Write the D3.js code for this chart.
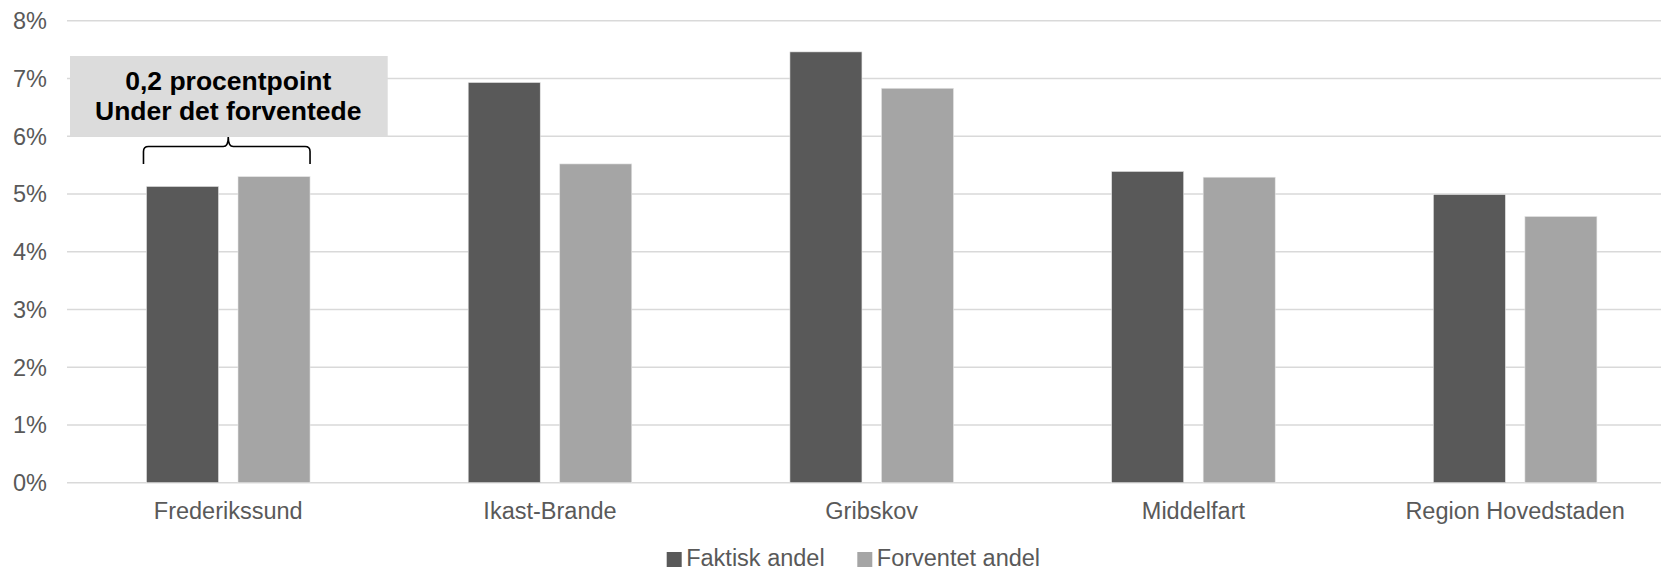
<!DOCTYPE html>
<html>
<head>
<meta charset="utf-8">
<script src="https://cdn.jsdelivr.net/npm/d3@7"></script>
<style>
  html, body { margin: 0; padding: 0; background: #fff; overflow: hidden; }
  svg { display: block; }
  text { font-family: "Liberation Sans", Arial, sans-serif; }
</style>
</head>
<body>
<svg id="chart" width="1661" height="571"></svg>
<script>
const categories = ["Frederikssund", "Ikast-Brande", "Gribskov", "Middelfart", "Region Hovedstaden"];
const seriesNames = ["Faktisk andel", "Forventet andel"];
const faktisk = [5.13, 6.93, 7.46, 5.39, 4.99];
const forventet = [5.30, 5.52, 6.83, 5.29, 4.61];
const yTicks = [0, 1, 2, 3, 4, 5, 6, 7, 8];
const seriesColors = ["#595959", "#a5a5a5"];
const annotationLines = ["0,2 procentpoint", "Under det forventede"];

const W = 1661, H = 571;
const svg = d3.select("#chart");

const x = d3.scaleBand().domain(categories).range([67.4, 1676]).paddingInner(0).paddingOuter(0);
const xs = d3.scaleBand().domain(seriesNames).range([0, x.bandwidth()]).paddingInner(0.213).paddingOuter(0.864);
const y = d3.scaleLinear().domain([0, 8]).range([482.7, 20.7]);
const color = d3.scaleOrdinal().domain(seriesNames).range(seriesColors);

// gridlines
svg.append("g").selectAll("line").data(yTicks).join("line")
  .attr("x1", 67).attr("x2", W)
  .attr("y1", d => y(d)).attr("y2", d => y(d))
  .attr("stroke", "#d9d9d9").attr("stroke-width", 1.4);

// y labels
svg.append("g").selectAll("text").data(yTicks).join("text")
  .attr("x", 47).attr("y", d => y(d) + 8.4)
  .attr("text-anchor", "end")
  .attr("font-size", 23.5)
  .attr("fill", "#595959")
  .text(d => d + "%");

// bars
const rows = categories.map((c, i) => ({ cat: c, vals: [faktisk[i], forventet[i]] }));
const groups = svg.append("g").selectAll("g").data(rows).join("g")
  .attr("transform", d => `translate(${x(d.cat)},0)`);
groups.selectAll("rect").data(d => seriesNames.map((s, j) => ({ s, v: d.vals[j] }))).join("rect")
  .attr("x", d => xs(d.s))
  .attr("width", xs.bandwidth())
  .attr("y", d => y(d.v))
  .attr("height", d => y(0) - y(d.v))
  .attr("fill", d => color(d.s))
  .attr("stroke", "#e6e6e6").attr("stroke-width", 0.6);

// category labels
svg.append("g").selectAll("text").data(categories).join("text")
  .attr("x", d => x(d) + x.bandwidth() / 2)
  .attr("y", 519.3)
  .attr("text-anchor", "middle")
  .attr("font-size", 23.5)
  .attr("fill", "#595959")
  .text(d => d);

// legend
const legendX = [666.7, 857.3];
const lg = svg.append("g").selectAll("g").data(seriesNames).join("g")
  .attr("transform", (d, i) => `translate(${legendX[i]},0)`);
lg.append("rect").attr("x", 0).attr("y", 552).attr("width", 15).attr("height", 15).attr("fill", d => color(d));
lg.append("text").attr("x", 19.5).attr("y", 566).attr("font-size", 23.5).attr("fill", "#595959").text(d => d);

// annotation
const cx = x(categories[0]) + x.bandwidth() / 2;
const ann = svg.append("g");
ann.append("rect").attr("x", 70).attr("y", 56).attr("width", 317.7).attr("height", 80.7).attr("fill", "#dcdcdc");
ann.selectAll("text").data(annotationLines).join("text")
  .attr("x", cx).attr("y", (d, i) => 89.8 + i * 30.5)
  .attr("text-anchor", "middle")
  .attr("font-size", 26.5).attr("font-weight", "bold").attr("fill", "#000")
  .text(d => d);

const bx0 = x(categories[0]) + xs(seriesNames[0]) - 3;
const bx1 = x(categories[0]) + xs(seriesNames[1]) + xs.bandwidth();
const by = 146.5, r = 5;
const brace = `M${bx0},164 L${bx0},${by + r} Q${bx0},${by} ${bx0 + r},${by} L${cx - 5},${by} Q${cx},${by} ${cx},${by - 9.5} Q${cx},${by} ${cx + 5},${by} L${bx1 - r},${by} Q${bx1},${by} ${bx1},${by + r} L${bx1},164`;
ann.append("path").attr("d", brace).attr("fill", "none").attr("stroke", "#000").attr("stroke-width", 1.6);
</script>
</body>
</html>
